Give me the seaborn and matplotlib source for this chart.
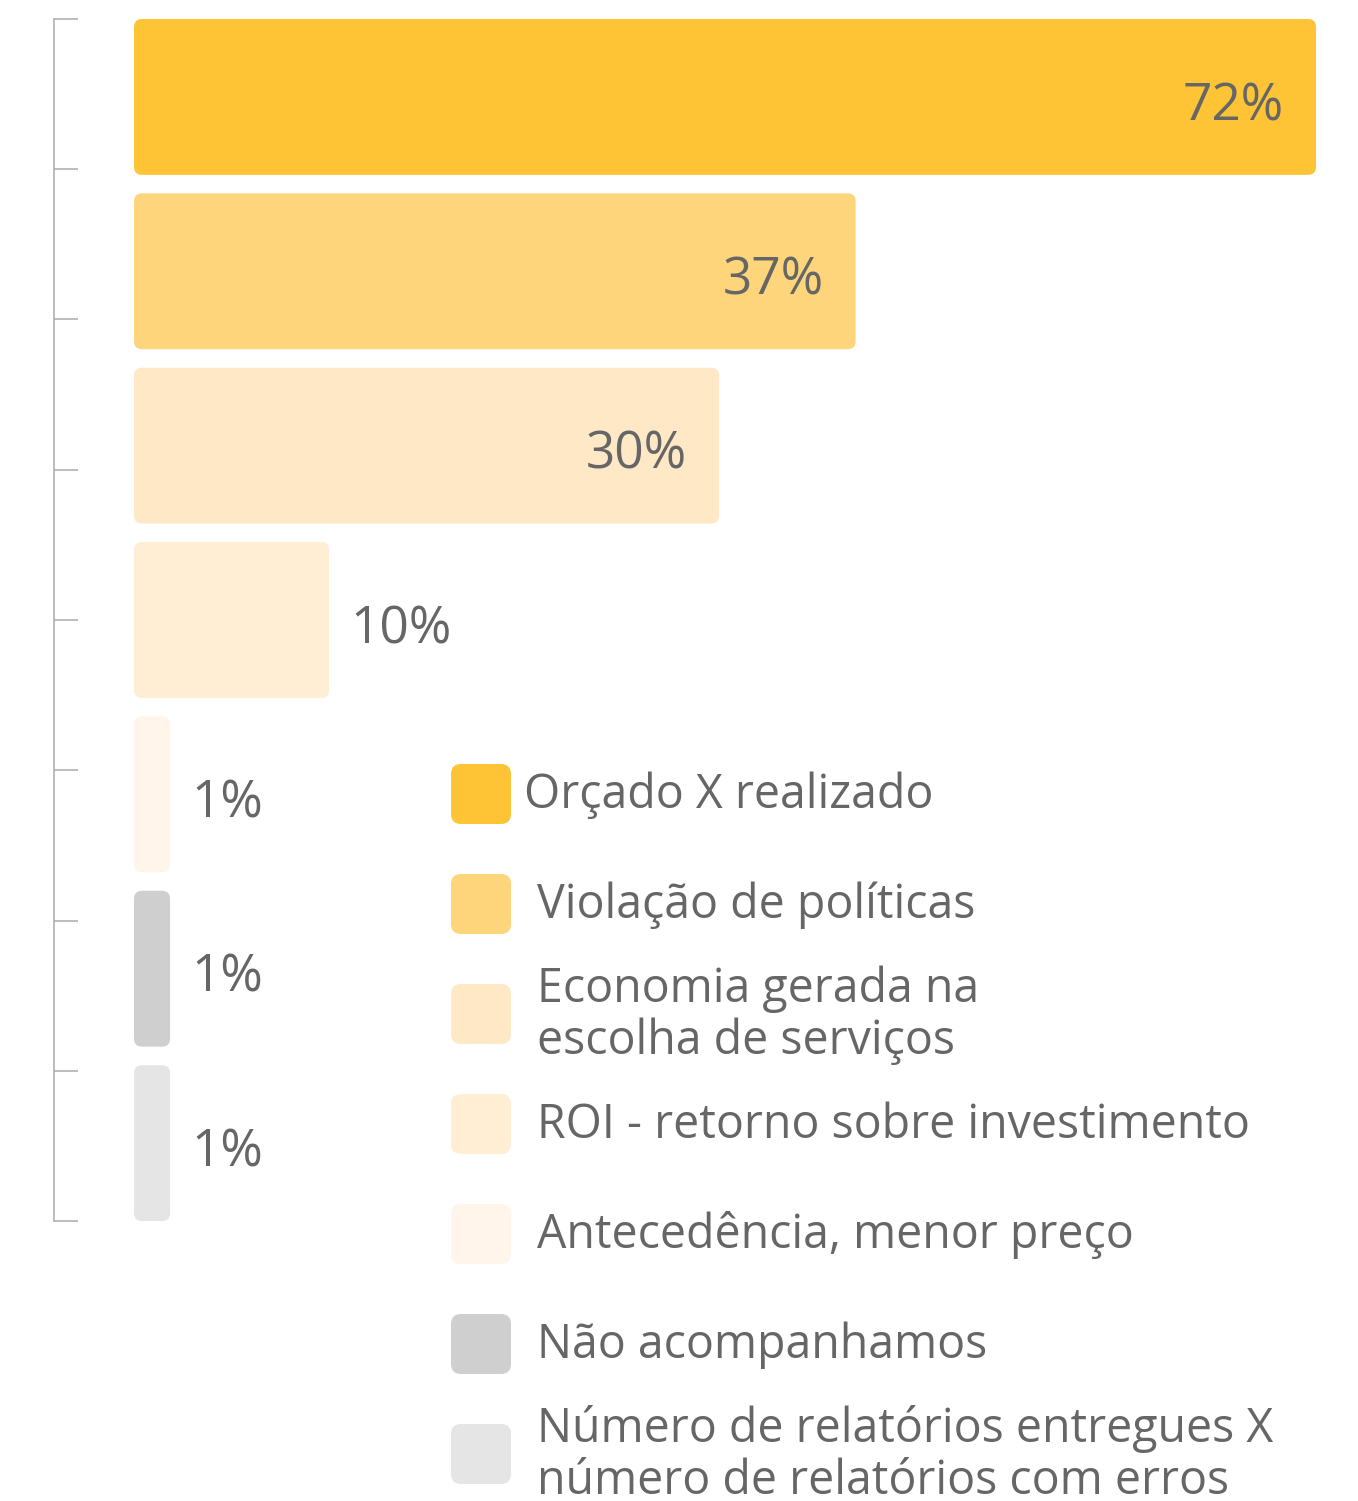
import numpy as np
import pandas as pd
import matplotlib
matplotlib.use("Agg")
import matplotlib.pyplot as plt
from matplotlib.patches import FancyBboxPatch
import seaborn as sns

# ---- data ----
categories = [
    "Orçado X realizado",
    "Violação de políticas",
    "Economia gerada na\nescolha de serviços",
    "ROI - retorno sobre investimento",
    "Antecedência, menor preço",
    "Não acompanhamos",
    "Número de relatórios entregues X\nnúmero de relatórios com erros",
]
values = [72, 37, 30, 10, 1, 1, 1]
value_labels = ["72%", "37%", "30%", "10%", "1%", "1%", "1%"]
colors = ["#FFC436", "#FFD57B", "#FFE8C5", "#FFEDD4", "#FFF5EA", "#CFCFCF", "#E5E5E5"]

TEXT = "#666666"
AXIS_MAX = 60.6          # visible range of the value axis
MIN_VISIBLE = 1.85       # tiny bars are drawn with a minimum visible width

sns.set_theme(style="white")
plt.rcParams["font.family"] = ["Open Sans", "DejaVu Sans"]

W, H, DPI = 1358, 1501, 100
fig = plt.figure(figsize=(W / DPI, H / DPI), dpi=DPI)
ax = fig.add_axes([134 / W, 1 - 1221 / H, (1316 - 134) / W, (1221 - 19) / H])

df = pd.DataFrame({
    "cat": categories,
    "val": np.maximum(values, MIN_VISIBLE),
})
bw = 0.894
sns.barplot(data=df, x="val", y="cat", hue="cat", palette=colors, legend=False,
            orient="h", width=bw, ax=ax, saturation=1)

half = bw / 2
ax.set_xlim(0, AXIS_MAX)
ax.set_ylim(len(categories) - 1 + half, -half)

# px per data unit, for isotropic rounded corners
px_x = (1316 - 134) / AXIS_MAX
px_y = (1221 - 19) / (len(categories) - 1 + 2 * half)
r_px = 8
for p in list(ax.patches):
    x, y = p.get_x(), p.get_y()
    w, h = p.get_width(), p.get_height()
    fc = p.get_facecolor()
    p.remove()
    w = min(x + w, AXIS_MAX) - x
    fb = FancyBboxPatch((x, y), w, h,
                        boxstyle=f"round,pad=0,rounding_size={r_px / px_x}",
                        mutation_aspect=px_x / px_y,
                        facecolor=fc, edgecolor="none", clip_on=False)
    ax.add_patch(fb)

# value labels
for i, (v, lab) in enumerate(zip(values, value_labels)):
    end = min(max(v, MIN_VISIBLE), AXIS_MAX)
    if v >= 30:
        ax.annotate(lab, (end, i), xytext=(-23, -7), textcoords="offset points",
                    ha="right", va="center", fontsize=37, color=TEXT)
    else:
        ax.annotate(lab, (end, i), xytext=(15, -7), textcoords="offset points",
                    ha="left", va="center", fontsize=37, color=TEXT)

# axis styling
for s in ["top", "right", "bottom"]:
    ax.spines[s].set_visible(False)
ax.spines["left"].set_position(("outward", 80 * 72 / DPI))
ax.spines["left"].set_bounds(-half, len(categories) - 1 + half)
ax.spines["left"].set_color("#ABABAB")
ax.spines["left"].set_linewidth(1.1)
ax.set_yticks(np.linspace(-half, len(categories) - 1 + half, 9))
ax.set_yticklabels([])
ax.tick_params(axis="y", direction="in", length=24 * 72 / DPI, width=1.1,
               color="#ABABAB", left=True)
ax.set_xticks([])
ax.set_xlabel("")
ax.set_ylabel("")
ax.patch.set_alpha(0)

# legend (drawn manually in pixel space)
lax = fig.add_axes([0, 0, 1, 1])
lax.set_xlim(0, W)
lax.set_ylim(H, 0)
lax.axis("off")
lax.patch.set_alpha(0)
for i, (cat, col) in enumerate(zip(categories, colors)):
    cy = 794 + 110 * i
    lax.add_patch(FancyBboxPatch((451, cy - 30), 60, 60,
                                 boxstyle="round,pad=0,rounding_size=10",
                                 facecolor=col, edgecolor="none"))
    tx = 524 if i == 0 else 537
    lax.text(tx, cy + 1, cat, ha="left", va="center", fontsize=33.5,
             color=TEXT, linespacing=1.12)

fig.savefig("out.png", dpi=DPI)
